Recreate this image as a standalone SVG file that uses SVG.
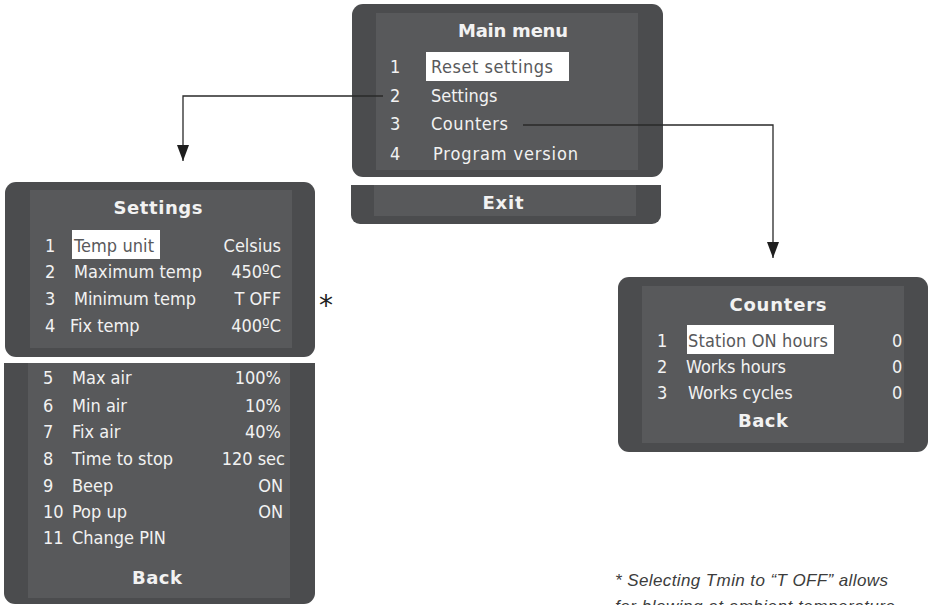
<svg xmlns="http://www.w3.org/2000/svg" width="929" height="605" viewBox="0 0 929 605">
<defs>
<style>
.outer{fill:#4b4c4e}
.inner{fill:#58595b}
.hl{fill:#ffffff}
.t{font-family:"DejaVu Sans Condensed","DejaVu Sans",sans-serif;font-size:18px;fill:#f2f2f2}
.th{font-family:"DejaVu Sans Condensed","DejaVu Sans",sans-serif;font-size:18px;fill:#58595b}
.b{font-family:"DejaVu Sans","Liberation Sans",sans-serif;font-weight:bold;font-size:18px;fill:#f2f2f2;text-anchor:middle}
.r{text-anchor:end}
.note{font-family:"Liberation Sans",Arial,sans-serif;font-style:italic;font-size:17px;fill:#3c3c3c}
.line{fill:none;stroke:#2a2a2a;stroke-width:1.3}
</style>
<marker id="ah" markerWidth="16" markerHeight="12" refX="16" refY="6" orient="auto" markerUnits="userSpaceOnUse" viewBox="0 0 16 12">
<path d="M0,0 L16,6 L0,12 Z" fill="#1e1e1e"/>
</marker>
</defs>
<rect width="929" height="605" fill="#ffffff"/>

<g id="main-menu">
<rect class="outer" x="352" y="4" width="311" height="173" rx="11"/>
<rect class="inner" x="376" y="13" width="262" height="157"/>
<text class="b" x="513" y="37" textLength="110">Main menu</text>
<rect class="hl" x="426" y="52" width="143" height="29"/>
<text class="t" x="390" y="73">1</text>
<text class="th" x="431" y="73" textLength="122">Reset settings</text>
<text class="t" x="390" y="102">2</text>
<text class="t" x="431" y="102">Settings</text>
<text class="t" x="390" y="130">3</text>
<text class="t" x="431" y="130" textLength="77">Counters</text>
<text class="t" x="390" y="160">4</text>
<text class="t" x="433" y="160" textLength="145">Program version</text>
</g>

<g id="exit">
<path class="outer" d="M351,185 H661 V215 a9,9 0 0 1 -9,9 H360 a9,9 0 0 1 -9,-9 Z"/>
<rect class="inner" x="374" y="185" width="262" height="31"/>
<text class="b" x="503" y="209" textLength="41">Exit</text>
</g>

<g id="settings">
<rect class="outer" x="5" y="182" width="310" height="175" rx="11"/>
<rect class="inner" x="30" y="190" width="262" height="158"/>
<text class="b" x="158" y="214" textLength="89">Settings</text>
<rect class="hl" x="72" y="230" width="88" height="29"/>
<text class="t" x="45" y="252">1</text>
<text class="th" x="74" y="252" textLength="80">Temp unit</text>
<text class="t r" x="281" y="252">Celsius</text>
<text class="t" x="45" y="278">2</text>
<text class="t" x="74" y="278" textLength="128">Maximum temp</text>
<text class="t r" x="281" y="278">450ºC</text>
<text class="t" x="45" y="305">3</text>
<text class="t" x="74" y="305" textLength="122">Minimum temp</text>
<text class="t r" x="281" y="305">T OFF</text>
<text class="t" x="45" y="332">4</text>
<text class="t" x="70" y="332">Fix temp</text>
<text class="t r" x="281" y="332">400ºC</text>
</g>

<g id="settings-more">
<path class="outer" d="M4,363 H315 V593 a11,11 0 0 1 -11,11 H15 a11,11 0 0 1 -11,-11 Z"/>
<rect class="inner" x="28" y="363" width="262" height="235"/>
<text class="t" x="43" y="384">5</text>
<text class="t" x="72" y="384">Max air</text>
<text class="t r" x="281" y="384">100%</text>
<text class="t" x="43" y="412">6</text>
<text class="t" x="72" y="412">Min air</text>
<text class="t r" x="281" y="412">10%</text>
<text class="t" x="43" y="438">7</text>
<text class="t" x="72" y="438">Fix air</text>
<text class="t r" x="281" y="438">40%</text>
<text class="t" x="43" y="465">8</text>
<text class="t" x="72" y="465">Time to stop</text>
<text class="t r" x="285" y="465">120 sec</text>
<text class="t" x="43" y="492">9</text>
<text class="t" x="72" y="492">Beep</text>
<text class="t r" x="283" y="492">ON</text>
<text class="t" x="43" y="518">10</text>
<text class="t" x="72" y="518">Pop up</text>
<text class="t r" x="283" y="518">ON</text>
<text class="t" x="43" y="544">11</text>
<text class="t" x="72" y="544">Change PIN</text>
<text class="b" x="157" y="584" textLength="50">Back</text>
</g>

<g id="counters">
<rect class="outer" x="618" y="277" width="310" height="175" rx="11"/>
<rect class="inner" x="642" y="286" width="262" height="157"/>
<text class="b" x="778" y="311" textLength="97">Counters</text>
<rect class="hl" x="687" y="325" width="147" height="29"/>
<text class="t" x="657" y="347">1</text>
<text class="th" x="688" y="347" textLength="140">Station ON hours</text>
<text class="t" x="892" y="347">0</text>
<text class="t" x="657" y="373">2</text>
<text class="t" x="686" y="373">Works hours</text>
<text class="t" x="892" y="373">0</text>
<text class="t" x="657" y="399">3</text>
<text class="t" x="688" y="399">Works cycles</text>
<text class="t" x="892" y="399">0</text>
<text class="b" x="763" y="427" textLength="50">Back</text>
</g>

<g id="footnote">
<text x="319" y="315" style="fill:#222;font-family:'DejaVu Sans',sans-serif;font-size:28px">*</text>
<text class="note" x="615" y="586" textLength="273">* Selecting Tmin to “T OFF” allows</text>
<text class="note" x="615" y="612" textLength="280">for blowing at ambient temperature</text>
</g>

<g id="connectors">
<path class="line" d="M383,96 H183 V161" marker-end="url(#ah)"/>
<path class="line" d="M523,125 H773 V258" marker-end="url(#ah)"/>
</g>
</svg>
